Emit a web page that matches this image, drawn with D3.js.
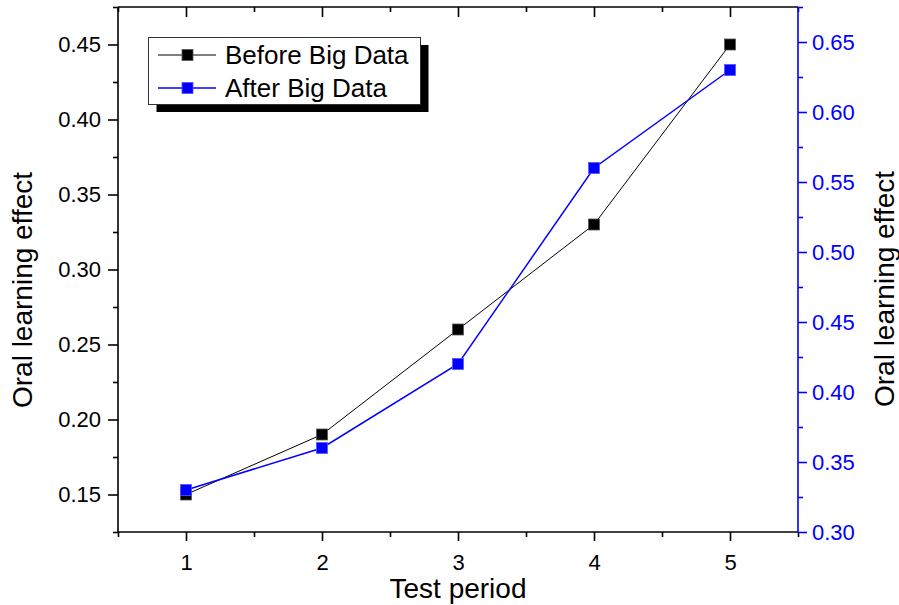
<!DOCTYPE html>
<html>
<head>
<meta charset="utf-8">
<script src="https://cdn.jsdelivr.net/npm/d3@7"></script>
<style>
  body { margin: 0; background: #fff; }
  svg { display: block; font-family: "Liberation Sans", Arial, sans-serif; }
</style>
</head>
<body>
<svg id="chart" width="899" height="605"></svg>
<script>
// ---- data ----
const periods = [1, 2, 3, 4, 5];
const beforeValues = [0.15, 0.19, 0.26, 0.33, 0.45];
const afterValues = [0.33, 0.36, 0.42, 0.56, 0.63];
const seriesNames = ["Before Big Data", "After Big Data"];
const xMajorTicks = [1, 2, 3, 4, 5];
const xMinorTicks = [0.5, 1.5, 2.5, 3.5, 4.5, 5.5];
const leftMajorTicks = [0.15, 0.20, 0.25, 0.30, 0.35, 0.40, 0.45];
const leftMinorTicks = [0.125, 0.175, 0.225, 0.275, 0.325, 0.375, 0.425, 0.475];
const rightMajorTicks = [0.30, 0.35, 0.40, 0.45, 0.50, 0.55, 0.60, 0.65];
const rightMinorTicks = [0.325, 0.375, 0.425, 0.475, 0.525, 0.575, 0.625, 0.675];
const xTitle = "Test period";
const yTitle = "Oral learning effect";

// ---- layout ----
const L = 118, R = 798, T = 7, B = 532;
const BLUE = "#0000ff";
const svg = d3.select("#chart");

const x = d3.scaleLinear().domain([0.5, 5.5]).range([L, R]);
const yL = d3.scaleLinear().domain([0.125, 0.475]).range([B, T]);
const yR = d3.scaleLinear().domain([0.30, 0.675]).range([B, T]);

function styleAxis(g, color) {
  g.select(".domain").remove();
  g.selectAll("line").attr("stroke", color).attr("stroke-width", 1.6);
  g.selectAll("text").attr("fill", color).attr("font-size", 22);
}

// bottom axis
svg.append("g").attr("transform", `translate(0,${B})`)
  .call(d3.axisBottom(x).tickValues(xMinorTicks).tickSize(5).tickFormat(""))
  .call(g => styleAxis(g, "#000"));
svg.append("g").attr("transform", `translate(0,${B})`)
  .call(d3.axisBottom(x).tickValues(xMajorTicks).tickSize(9).tickPadding(13).tickFormat(d3.format("d")))
  .call(g => styleAxis(g, "#000"));
// top axis (inward ticks)
svg.append("g").attr("transform", `translate(0,${T})`)
  .call(d3.axisBottom(x).tickValues(xMinorTicks).tickSize(5).tickFormat(""))
  .call(g => styleAxis(g, "#000"));
svg.append("g").attr("transform", `translate(0,${T})`)
  .call(d3.axisBottom(x).tickValues(xMajorTicks).tickSize(10).tickFormat(""))
  .call(g => styleAxis(g, "#000"));
// left axis
svg.append("g").attr("transform", `translate(${L},0)`)
  .call(d3.axisLeft(yL).tickValues(leftMinorTicks).tickSize(5).tickFormat(""))
  .call(g => styleAxis(g, "#000"));
svg.append("g").attr("transform", `translate(${L},0)`)
  .call(d3.axisLeft(yL).tickValues(leftMajorTicks).tickSize(10).tickPadding(7).tickFormat(d3.format(".2f")))
  .call(g => styleAxis(g, "#000"));
// right axis
svg.append("g").attr("transform", `translate(${R},0)`)
  .call(d3.axisRight(yR).tickValues(rightMinorTicks).tickSize(5).tickFormat(""))
  .call(g => styleAxis(g, BLUE));
svg.append("g").attr("transform", `translate(${R},0)`)
  .call(d3.axisRight(yR).tickValues(rightMajorTicks).tickSize(9).tickPadding(5).tickFormat(d3.format(".2f")))
  .call(g => styleAxis(g, BLUE));

// frame lines
svg.append("line").attr("x1", L).attr("x2", R).attr("y1", T).attr("y2", T).attr("stroke", "#000").attr("stroke-width", 1.6);
svg.append("line").attr("x1", L).attr("x2", R).attr("y1", B).attr("y2", B).attr("stroke", "#000").attr("stroke-width", 1.6);
svg.append("line").attr("x1", L).attr("x2", L).attr("y1", T).attr("y2", B).attr("stroke", "#000").attr("stroke-width", 1.6);
svg.append("line").attr("x1", R).attr("x2", R).attr("y1", T).attr("y2", B).attr("stroke", BLUE).attr("stroke-width", 1.6);

// axis titles
svg.append("text").attr("x", 458).attr("y", 598).attr("text-anchor", "middle")
  .attr("font-size", 28).attr("fill", "#000").text(xTitle);
svg.append("text").attr("transform", "translate(32,290) rotate(-90)").attr("text-anchor", "middle")
  .attr("font-size", 28).attr("fill", "#000").text(yTitle);
svg.append("text").attr("transform", "translate(894,289) rotate(-90)").attr("text-anchor", "middle")
  .attr("font-size", 28).attr("fill", "#000").text(yTitle);

// series
const beforeData = periods.map((p, i) => ({ p, v: beforeValues[i] }));
const afterData = periods.map((p, i) => ({ p, v: afterValues[i] }));
const lineL = d3.line().x(d => x(d.p)).y(d => yL(d.v));
const lineR = d3.line().x(d => x(d.p)).y(d => yR(d.v));
const M = 11;

svg.append("path").datum(beforeData).attr("d", lineL).attr("fill", "none").attr("stroke", "#000").attr("stroke-width", 1);
svg.append("path").datum(afterData).attr("d", lineR).attr("fill", "none").attr("stroke", BLUE).attr("stroke-width", 1.5);

svg.append("g").selectAll("rect").data(beforeData).join("rect")
  .attr("x", d => x(d.p) - M / 2).attr("y", d => yL(d.v) - M / 2)
  .attr("width", M).attr("height", M).attr("fill", "#000").attr("stroke", "#555").attr("stroke-width", 0.8);
svg.append("g").selectAll("rect").data(afterData).join("rect")
  .attr("x", d => x(d.p) - M / 2).attr("y", d => yR(d.v) - M / 2)
  .attr("width", M).attr("height", M).attr("fill", BLUE).attr("stroke", "#5555ff").attr("stroke-width", 0.8);

// legend
const lg = svg.append("g");
lg.append("rect").attr("x", 156.5).attr("y", 45).attr("width", 272).attr("height", 67).attr("fill", "#000");
lg.append("rect").attr("x", 148.5).attr("y", 37.5).attr("width", 272).attr("height", 67)
  .attr("fill", "#fff").attr("stroke", "#333").attr("stroke-width", 1);
const legendRows = [
  { name: seriesNames[0], color: "#000", sw: 1, stroke: "#555", y: 55 },
  { name: seriesNames[1], color: BLUE, sw: 1.5, stroke: "#5555ff", y: 88 }
];
legendRows.forEach(r => {
  lg.append("line").attr("x1", 158).attr("x2", 216).attr("y1", r.y).attr("y2", r.y)
    .attr("stroke", r.color).attr("stroke-width", r.sw);
  lg.append("rect").attr("x", 187.5 - M / 2).attr("y", r.y - M / 2).attr("width", M).attr("height", M)
    .attr("fill", r.color).attr("stroke", r.stroke).attr("stroke-width", 0.8);
  lg.append("text").attr("x", 225).attr("y", r.y + 9).attr("font-size", 26).attr("fill", "#000").text(r.name);
});
</script>
</body>
</html>
